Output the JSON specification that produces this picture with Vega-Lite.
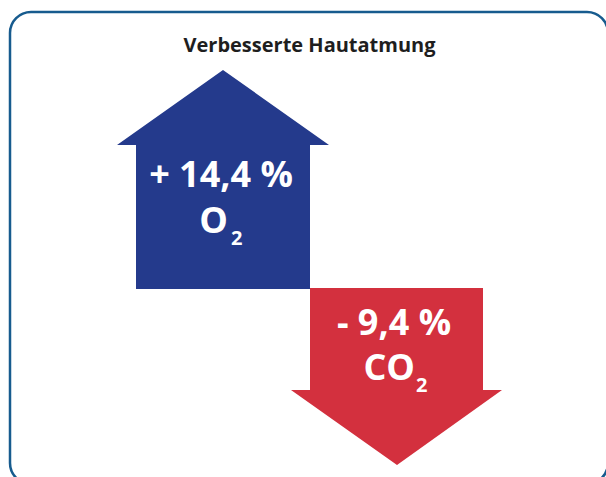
{
  "$schema": "https://vega.github.io/schema/vega-lite/v6.json",
  "width": 606,
  "height": 477,
  "padding": 0,
  "autosize": "none",
  "background": "white",
  "config": {"view": {"stroke": null}},
  "datasets": {
    "frame": [{"x": 10, "x2": 608, "y": 12, "y2": 484}],
    "arrows": [
      {"arrow": "O2", "i": 1, "x": 223, "y": 70},
      {"arrow": "O2", "i": 2, "x": 329, "y": 145},
      {"arrow": "O2", "i": 3, "x": 310, "y": 145},
      {"arrow": "O2", "i": 4, "x": 310, "y": 289},
      {"arrow": "O2", "i": 5, "x": 136, "y": 289},
      {"arrow": "O2", "i": 6, "x": 136, "y": 145},
      {"arrow": "O2", "i": 7, "x": 117, "y": 145},
      {"arrow": "CO2", "i": 1, "x": 310, "y": 288},
      {"arrow": "CO2", "i": 2, "x": 483, "y": 288},
      {"arrow": "CO2", "i": 3, "x": 483, "y": 390},
      {"arrow": "CO2", "i": 4, "x": 502, "y": 390},
      {"arrow": "CO2", "i": 5, "x": 397, "y": 465},
      {"arrow": "CO2", "i": 6, "x": 291, "y": 390},
      {"arrow": "CO2", "i": 7, "x": 310, "y": 390}
    ],
    "title": [{"label": "Verbesserte Hautatmung", "x": 309.5, "y": 52}],
    "values": [
      {"label": "+ 14,4 %", "x": 221, "y": 187},
      {"label": "- 9,4 %", "x": 394, "y": 335}
    ],
    "gases": [
      {"label": "O", "x": 228, "y": 233},
      {"label": "CO", "x": 415, "y": 380}
    ],
    "subs": [
      {"label": "2", "x": 231, "y": 245},
      {"label": "2", "x": 416, "y": 392}
    ]
  },
  "layer": [
    {
      "data": {"name": "frame"},
      "mark": {"type": "rect", "fill": null, "fillOpacity": 0, "stroke": "#175b8e", "strokeWidth": 2.5, "cornerRadius": 21},
      "encoding": {
        "x": {"field": "x", "type": "quantitative", "scale": {"domain": [0, 606]}, "axis": null},
        "x2": {"field": "x2"},
        "y": {"field": "y", "type": "quantitative", "scale": {"domain": [0, 477], "reverse": true}, "axis": null},
        "y2": {"field": "y2"}
      }
    },
    {
      "data": {"name": "arrows"},
      "mark": {"type": "line", "filled": true, "strokeWidth": 0, "interpolate": "linear"},
      "encoding": {
        "x": {"field": "x", "type": "quantitative", "scale": {"domain": [0, 606]}, "axis": null},
        "y": {"field": "y", "type": "quantitative", "scale": {"domain": [0, 477], "reverse": true}, "axis": null},
        "order": {"field": "i", "type": "quantitative"},
        "color": {"field": "arrow", "type": "nominal", "scale": {"domain": ["O2", "CO2"], "range": ["#243a8c", "#d3303e"]}, "legend": null}
      }
    },
    {
      "data": {"name": "title"},
      "mark": {"type": "text", "font": "Open Sans", "fontWeight": "bold", "fontSize": 20, "color": "#1e1e1e", "align": "center", "baseline": "alphabetic"},
      "encoding": {
        "x": {"field": "x", "type": "quantitative", "scale": {"domain": [0, 606]}, "axis": null},
        "y": {"field": "y", "type": "quantitative", "scale": {"domain": [0, 477], "reverse": true}, "axis": null},
        "text": {"field": "label"}
      }
    },
    {
      "data": {"name": "values"},
      "mark": {"type": "text", "font": "Open Sans", "fontWeight": "bold", "fontSize": 36, "color": "white", "align": "center", "baseline": "alphabetic"},
      "encoding": {
        "x": {"field": "x", "type": "quantitative", "scale": {"domain": [0, 606]}, "axis": null},
        "y": {"field": "y", "type": "quantitative", "scale": {"domain": [0, 477], "reverse": true}, "axis": null},
        "text": {"field": "label"}
      }
    },
    {
      "data": {"name": "gases"},
      "mark": {"type": "text", "font": "Open Sans", "fontWeight": "bold", "fontSize": 36, "color": "white", "align": "right", "baseline": "alphabetic"},
      "encoding": {
        "x": {"field": "x", "type": "quantitative", "scale": {"domain": [0, 606]}, "axis": null},
        "y": {"field": "y", "type": "quantitative", "scale": {"domain": [0, 477], "reverse": true}, "axis": null},
        "text": {"field": "label"}
      }
    },
    {
      "data": {"name": "subs"},
      "mark": {"type": "text", "font": "Open Sans", "fontWeight": "bold", "fontSize": 20, "color": "white", "align": "left", "baseline": "alphabetic"},
      "encoding": {
        "x": {"field": "x", "type": "quantitative", "scale": {"domain": [0, 606]}, "axis": null},
        "y": {"field": "y", "type": "quantitative", "scale": {"domain": [0, 477], "reverse": true}, "axis": null},
        "text": {"field": "label"}
      }
    }
  ]
}
